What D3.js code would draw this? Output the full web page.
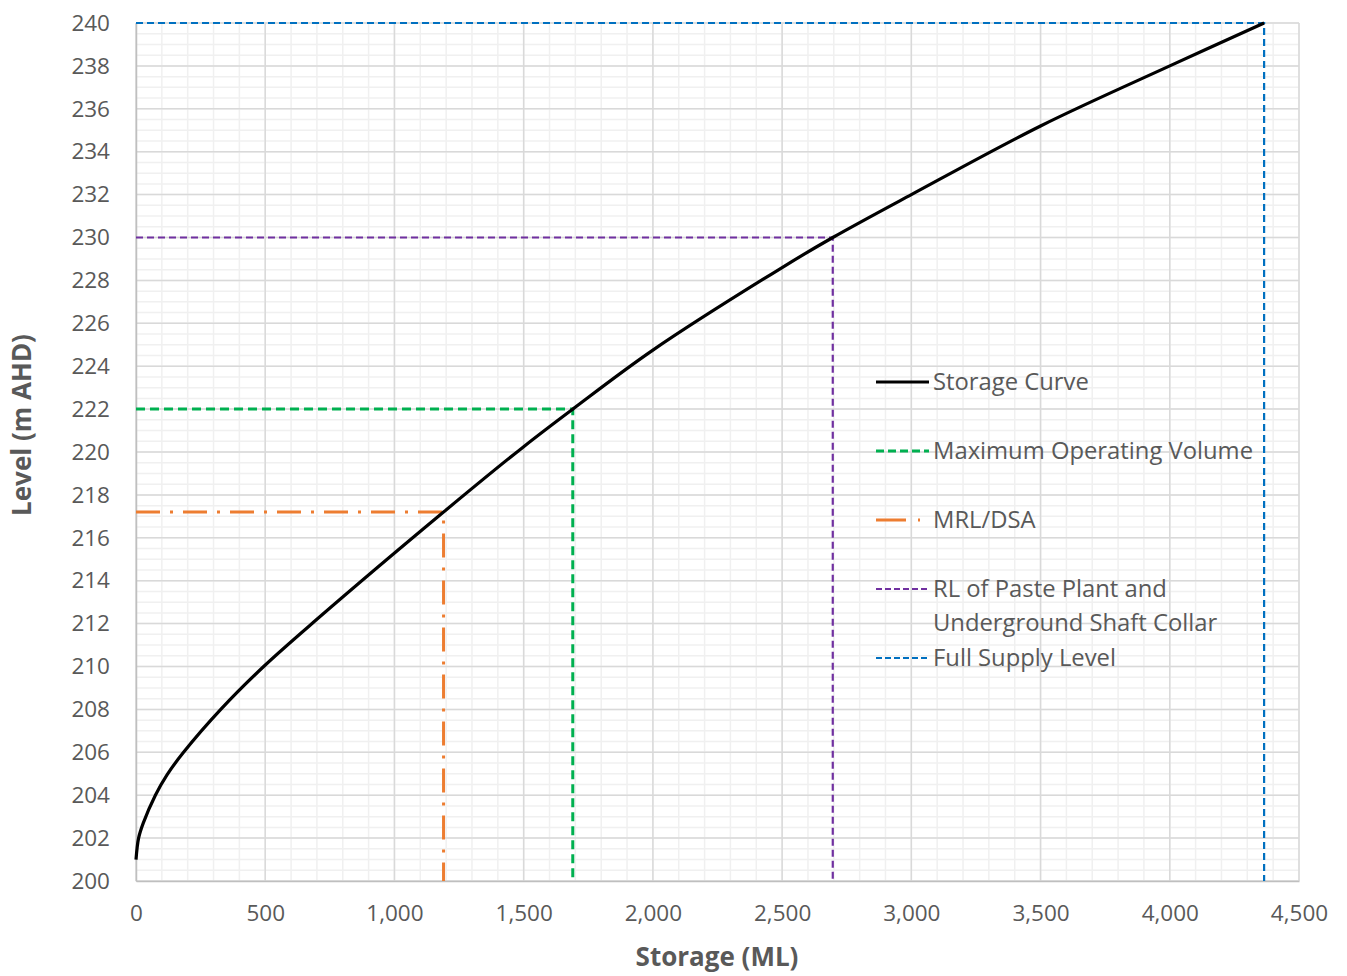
<!DOCTYPE html>
<html>
<head>
<meta charset="utf-8">
<script src="https://cdn.jsdelivr.net/npm/d3@7"></script>
<style>
  body { margin: 0; background: #fff; }
  text { font-family: "Open Sans", "Noto Sans", sans-serif; }
</style>
</head>
<body>
<svg id="chart" width="1347" height="976"></svg>
<script>
// ---- data ----
const storage = [0, 10, 28, 75, 120, 184, 328, 494, 700, 1190, 1500, 1690, 2000, 2500, 2696, 3000, 3500, 4000, 4365];
const level   = [201.0, 202.0, 202.7, 204.0, 204.95, 206.0, 208.0, 210.0, 212.2, 217.2, 220.25, 222.0, 224.75, 228.6, 230.0, 232.0, 235.2, 238.0, 240.0];

const refNames   = ["Maximum Operating Volume", "MRL/DSA", "RL of Paste Plant and Underground Shaft Collar", "Full Supply Level"];
const refStorage = [1690, 1190, 2696, 4365];
const refLevel   = [222, 217.2, 230, 240];
const refColors  = ["#00B050", "#ED7D31", "#7030A0", "#0070C0"];

const xTicks = [0, 500, 1000, 1500, 2000, 2500, 3000, 3500, 4000, 4500];
const yTicks = d3.range(200, 241, 2);

// ---- layout ----
const svg = d3.select("#chart");
const L = 136, R = 1299, T = 23, B = 881;
const x = d3.scaleLinear().domain([0, 4500]).range([L, R]);
const y = d3.scaleLinear().domain([200, 240]).range([B, T]);

// minor grid
const g = svg.append("g");
g.selectAll(".vminor").data(d3.range(0, 4501, 100)).enter().append("line")
  .attr("x1", d => x(d)).attr("x2", d => x(d)).attr("y1", T).attr("y2", B)
  .attr("stroke", "#F0F0F0").attr("stroke-width", 1.5);
g.selectAll(".hminor").data(d3.range(200, 240.01, 0.5)).enter().append("line")
  .attr("x1", L).attr("x2", R).attr("y1", d => y(d)).attr("y2", d => y(d))
  .attr("stroke", "#F0F0F0").attr("stroke-width", 1.5);
// major grid
g.selectAll(".vmajor").data(xTicks).enter().append("line")
  .attr("x1", d => x(d)).attr("x2", d => x(d)).attr("y1", T).attr("y2", B)
  .attr("stroke", "#D9D9D9").attr("stroke-width", 1.5);
g.selectAll(".hmajor").data(yTicks).enter().append("line")
  .attr("x1", L).attr("x2", R).attr("y1", d => y(d)).attr("y2", d => y(d))
  .attr("stroke", "#D9D9D9").attr("stroke-width", 1.5);

// axes
const xAxis = svg.append("g").attr("transform", `translate(0,${B})`)
  .call(d3.axisBottom(x).tickValues(xTicks).tickFormat(d3.format(",")).tickSize(0).tickPadding(24));
const yAxis = svg.append("g").attr("transform", `translate(${L},0)`)
  .call(d3.axisLeft(y).tickValues(yTicks).tickFormat(d3.format("d")).tickSize(0).tickPadding(26));
[xAxis, yAxis].forEach(a => {
  a.select(".domain").attr("stroke", "#BFBFBF").attr("stroke-width", 1.5);
  a.selectAll("text").attr("fill", "#595959").style("font-size", "22.5px");
});

// reference lines
const dashes = ["9,5", "24,10,3,10", "7,4", "7,4"];
const widths = [3, 3, 2.2, 2.2];
refStorage.forEach((s, i) => {
  const p = d3.path();
  p.moveTo(x(0), y(refLevel[i]));
  p.lineTo(x(s), y(refLevel[i]));
  p.lineTo(x(s), y(200));
  svg.append("path").attr("d", p.toString()).attr("fill", "none")
    .attr("stroke", refColors[i]).attr("stroke-width", widths[i])
    .attr("stroke-dasharray", dashes[i]);
});

// storage curve
const pts = storage.map((s, i) => [s, level[i]]);
svg.append("path").datum(pts)
  .attr("d", d3.line().x(d => x(d[0])).y(d => y(d[1])).curve(d3.curveCatmullRom.alpha(0.5)))
  .attr("fill", "none").attr("stroke", "#000").attr("stroke-width", 3.2)
  .attr("stroke-linejoin", "round");

// legend
const leg = svg.append("g");
const legItems = [
  {name: ["Storage Curve"], color: "#000", dash: null, w: 3, y: 382},
  {name: ["Maximum Operating Volume"], color: refColors[0], dash: "8,4", w: 3, y: 451},
  {name: ["MRL/DSA"], color: refColors[1], dash: "30,12,2,50", w: 3, y: 520},
  {name: ["RL of Paste Plant and", "Underground Shaft Collar"], color: refColors[2], dash: "6,3", w: 2.2, y: 589},
  {name: ["Full Supply Level"], color: refColors[3], dash: "6,3", w: 2.2, y: 658}
];
legItems.forEach(it => {
  leg.append("line").attr("x1", 876).attr("x2", 929).attr("y1", it.y).attr("y2", it.y)
    .attr("stroke", it.color).attr("stroke-width", it.w)
    .attr("stroke-dasharray", it.dash);
  it.name.forEach((t, j) => {
    leg.append("text").attr("x", 933).attr("y", it.y + j * 34 + 8)
      .attr("fill", "#595959").style("font-size", "23.8px").text(t);
  });
});

// axis titles
svg.append("text").attr("x", 717).attr("y", 966).attr("text-anchor", "middle")
  .attr("fill", "#595959").style("font-size", "26px").style("font-weight", "bold").text("Storage (ML)");
svg.append("text").attr("transform", `translate(31,425) rotate(-90)`).attr("text-anchor", "middle")
  .attr("fill", "#595959").style("font-size", "26px").style("font-weight", "bold").text("Level (m AHD)");
</script>
</body>
</html>
